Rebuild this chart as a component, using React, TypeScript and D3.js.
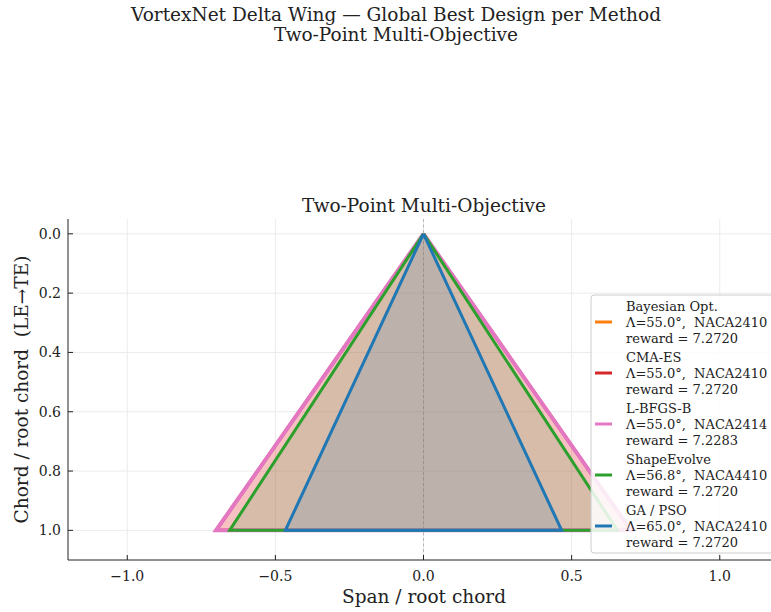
import React from "react";
import * as d3 from "d3";

const methods = ["Bayesian Opt.", "CMA-ES", "L-BFGS-B", "ShapeEvolve", "GA / PSO"];
const sweepDeg = [55.0, 55.0, 55.0, 56.8, 65.0];
const airfoils = ["NACA2410", "NACA2410", "NACA2414", "NACA4410", "NACA2410"];
const rewards = ["7.2720", "7.2720", "7.2283", "7.2720", "7.2720"];
const colors = ["#ff7f0e", "#d62728", "#e377c2", "#2ca02c", "#1f77b4"];
const lineWidths = [3, 3, 4, 3, 3];
const xTicks = [-1.0, -0.5, 0.0, 0.5, 1.0];
const yTicks = [0.0, 0.2, 0.4, 0.6, 0.8, 1.0];

const W = 771;
const H = 612;
const FONT = "'DejaVu Serif', serif";

export default function App() {
  const x = d3.scaleLinear().domain([-1.2, 1.2]).range([68, 779]);
  const y = d3.scaleLinear().domain([-0.05, 1.1]).range([219, 560]);
  const line = d3
    .line<[number, number]>()
    .x((d) => x(d[0]))
    .y((d) => y(d[1]));

  const wings = methods.map((m, i) => {
    const b = Math.tan(((90 - sweepDeg[i]) * Math.PI) / 180);
    const pts: [number, number][] = [
      [0, 0],
      [b, 1],
      [-b, 1],
      [0, 0],
    ];
    return { m, pts, i };
  });

  const legX = 591;
  const legY = 295;
  const entryH = 51;
  const lineH = 16;

  return (
    <svg
      width={W}
      height={H}
      style={{ position: "absolute", left: 0, top: 0, background: "#fff" }}
      fontFamily={FONT}
    >
      <rect x={0} y={0} width={W} height={H} fill="#fff" />
      {/* suptitle */}
      <text x={396} y={21} textAnchor="middle" fontSize={18.5} fill="#222">
        VortexNet Delta Wing — Global Best Design per Method
      </text>
      <text x={396} y={41} textAnchor="middle" fontSize={18.5} fill="#222">
        Two-Point Multi-Objective
      </text>
      {/* axes title */}
      <text x={424} y={212} textAnchor="middle" fontSize={18.5} fill="#222">
        Two-Point Multi-Objective
      </text>

      {/* grid */}
      {xTicks.map((t) => (
        <line key={"gx" + t} x1={x(t)} x2={x(t)} y1={219} y2={560} stroke="#ebebeb" strokeWidth={1} />
      ))}
      {yTicks.map((t) => (
        <line key={"gy" + t} x1={68} x2={W} y1={y(t)} y2={y(t)} stroke="#ebebeb" strokeWidth={1} />
      ))}

      {/* center dashed line */}
      <line x1={x(0)} x2={x(0)} y1={219} y2={560} stroke="#999" strokeWidth={0.8} strokeDasharray="3,2.5" opacity={0.8} />

      {/* wings fills */}
      {wings.map((w) => (
        <path key={"f" + w.i} d={line(w.pts) as string} fill={colors[w.i]} fillOpacity={0.15} stroke="none" />
      ))}
      {wings.map((w) => (
        <path
          key={"l" + w.i}
          d={line(w.pts) as string}
          fill="none"
          stroke={colors[w.i]}
          strokeWidth={lineWidths[w.i]}
          strokeLinejoin="miter"
        />
      ))}

      {/* spines */}
      <line x1={68} x2={68} y1={219} y2={560} stroke="#222" strokeWidth={1} />
      <line x1={68} x2={W} y1={560} y2={560} stroke="#222" strokeWidth={1} />

      {/* ticks */}
      {xTicks.map((t) => (
        <g key={"tx" + t}>
          <line x1={x(t)} x2={x(t)} y1={560} y2={555} stroke="#222" strokeWidth={1} />
          <text x={x(t)} y={581} textAnchor="middle" fontSize={14} fill="#222">
            {d3.format(".1f")(t).replace("-", "\u2212")}
          </text>
        </g>
      ))}
      {yTicks.map((t) => (
        <g key={"ty" + t}>
          <line x1={68} x2={73} y1={y(t)} y2={y(t)} stroke="#222" strokeWidth={1} />
          <text x={61} y={y(t) + 5} textAnchor="end" fontSize={14} fill="#222">
            {d3.format(".1f")(t)}
          </text>
        </g>
      ))}

      {/* axis labels */}
      <text x={424} y={603} textAnchor="middle" fontSize={18.5} fill="#222">
        Span / root chord
      </text>
      <text
        transform={`translate(28,${(219 + 560) / 2}) rotate(-90)`}
        textAnchor="middle"
        fontSize={18.5}
        fill="#222"
        style={{ whiteSpace: "pre" }}
      >
        {"Chord / root chord  (LE\u2192TE)"}
      </text>

      {/* legend */}
      <rect x={legX} y={legY} width={200} height={258} rx={3} fill="#fff" fillOpacity={0.85} stroke="#ccc" strokeWidth={1} />
      {methods.map((m, i) => {
        const top = legY + 11 + i * entryH;
        return (
          <g key={"lg" + i}>
            <line x1={595} x2={612} y1={top + lineH} y2={top + lineH} stroke={colors[i]} strokeWidth={3} />
            <text x={626} y={top + 4.5} fontSize={13} fill="#222">
              {m}
            </text>
            <text x={626} y={top + lineH + 4.5} fontSize={13} fill="#222" style={{ whiteSpace: "pre" }}>
              {`\u039b=${sweepDeg[i].toFixed(1)}\u00b0,  ${airfoils[i]}`}
            </text>
            <text x={626} y={top + 2 * lineH + 4.5} fontSize={13} fill="#222">
              {`reward = ${rewards[i]}`}
            </text>
          </g>
        );
      })}
    </svg>
  );
}
